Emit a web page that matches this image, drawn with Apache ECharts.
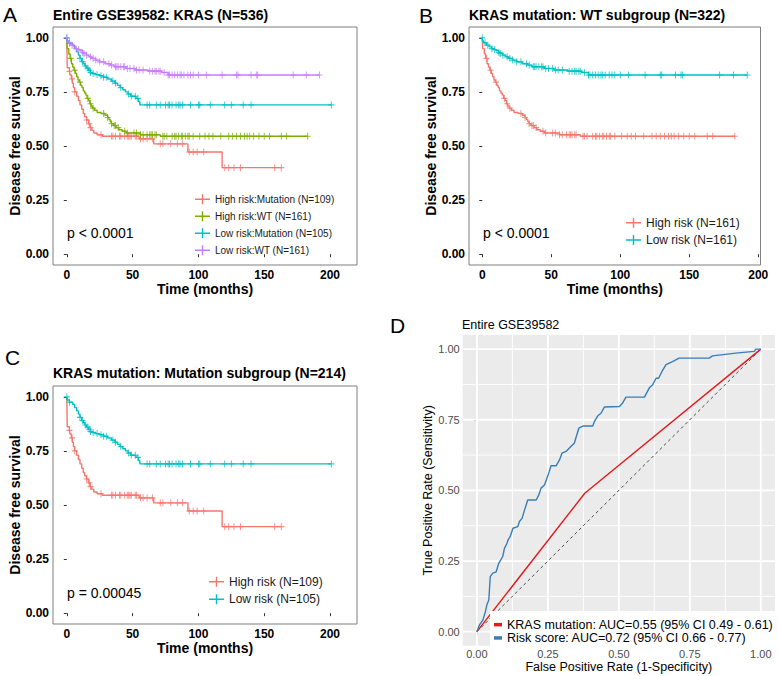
<!DOCTYPE html>
<html><head><meta charset="utf-8">
<script src="https://cdn.jsdelivr.net/npm/echarts@6/dist/echarts.min.js"></script>
<style>html,body{margin:0;padding:0;background:#fff}#c{width:778px;height:676px}</style>
</head><body><div id="c"></div>
<script>
// ---------------- DATA ----------------
// Kaplan-Meier step curves (time in months, survival probability)
const hrMutTime = [0, 0.3, 2, 2.5, 3.5, 4.2, 5, 6, 7.5, 8.8, 10, 11.3, 12.5, 13.5, 15, 16.4, 17.6, 19, 20.5, 23, 27, 55, 66, 92, 118, 163];
const hrMutSurv = [1.0, 0.862, 0.845, 0.828, 0.81, 0.79, 0.77, 0.75, 0.73, 0.71, 0.69, 0.67, 0.65, 0.635, 0.62, 0.603, 0.585, 0.572, 0.56, 0.552, 0.545, 0.533, 0.51, 0.472, 0.40, 0.40];
const hrMutCensor = [2, 4, 6, 15, 17, 18, 26, 34, 35, 37, 40, 41, 44, 46, 47, 48, 49, 52, 53, 56, 58, 61, 65, 71, 73, 79, 84, 88, 93, 96, 99, 104, 120, 123, 127, 132, 158, 163];

const hrWTTime = [0, 0.3, 1.5, 2.5, 3.5, 4.5, 5.5, 6.5, 7.5, 8.5, 9.5, 10.5, 11.5, 12.5, 13.5, 14.5, 15.5, 16.5, 17.5, 18.5, 19.5, 21, 23, 26, 29, 31, 32, 33, 34, 35.5, 37.5, 39.5, 42, 45, 56, 71, 183];
const hrWTSurv = [1.0, 0.95, 0.925, 0.905, 0.88, 0.865, 0.85, 0.835, 0.82, 0.805, 0.795, 0.78, 0.77, 0.755, 0.745, 0.735, 0.72, 0.71, 0.695, 0.685, 0.675, 0.665, 0.655, 0.65, 0.642, 0.632, 0.622, 0.612, 0.603, 0.595, 0.585, 0.575, 0.568, 0.56, 0.552, 0.545, 0.545];
const hrWTCensor = [3, 6, 10, 16, 18, 20, 28, 31, 34, 36, 37, 39, 44, 46, 51, 53, 56, 58, 61, 63, 64, 65, 67, 68, 73, 74, 76, 80, 82, 83, 85, 87, 88, 90, 92, 93, 96, 101, 105, 108, 111, 117, 123, 126, 129, 132, 135, 137, 139, 142, 146, 150, 154, 163, 167, 183];

const lrMutTime = [0, 0.2, 2, 4.5, 6, 7.5, 8.8, 10, 11.3, 12.5, 13.8, 15, 16.3, 18, 19.5, 22, 25, 28, 31, 34, 36.5, 38.5, 40.5, 42.5, 44.5, 46.5, 48.5, 52.5, 54.5, 55.5, 201];
const lrMutSurv = [1.0, 0.985, 0.975, 0.965, 0.95, 0.935, 0.92, 0.905, 0.89, 0.88, 0.87, 0.86, 0.85, 0.84, 0.835, 0.83, 0.825, 0.818, 0.81, 0.80, 0.79, 0.78, 0.77, 0.76, 0.75, 0.74, 0.73, 0.72, 0.705, 0.69, 0.69];
const lrMutCensor = [0, 2, 10, 12, 14, 16, 17, 18, 20, 23, 26, 28, 30, 35, 37, 41, 47, 49, 52, 54, 61, 63, 68, 71, 75, 77, 78, 80, 83, 85, 86, 88, 94, 100, 101, 109, 120, 125, 134, 140, 201];

const lrWTTime = [0, 0.3, 1, 3, 5, 7, 8, 10, 12, 13, 15, 17, 19, 22, 25, 29, 33, 36, 45, 52, 62, 72, 77, 192];
const lrWTSurv = [1.0, 0.985, 0.977, 0.966, 0.958, 0.95, 0.946, 0.94, 0.932, 0.928, 0.92, 0.912, 0.905, 0.897, 0.889, 0.88, 0.874, 0.866, 0.858, 0.851, 0.846, 0.84, 0.828, 0.828];
const lrWTCensor = [0, 2, 4, 7, 9, 12, 13, 15, 18, 20, 22, 25, 28, 32, 34, 37, 38, 39, 41, 43, 44, 46, 48, 51, 53, 55, 58, 63, 65, 67, 68, 70, 71, 74, 77, 78, 80, 82, 84, 86, 87, 89, 92, 94, 96, 100, 106, 118, 129, 130, 140, 144, 145, 172, 182, 192];

// ROC curves
const rocRiskFPR = [0, 0.009, 0.021, 0.03, 0.035, 0.042, 0.047, 0.056, 0.068, 0.077, 0.091, 0.097, 0.106, 0.110, 0.117, 0.127, 0.144, 0.15, 0.159, 0.168, 0.179, 0.209, 0.218, 0.226, 0.238, 0.253, 0.261, 0.279, 0.291, 0.30, 0.314, 0.332, 0.343, 0.359, 0.375, 0.408, 0.414, 0.426, 0.437, 0.449, 0.502, 0.513, 0.525, 0.59, 0.607, 0.619, 0.631, 0.64, 0.652, 0.666, 0.689, 0.712, 0.818, 0.83, 0.912, 0.977, 0.982, 1];
const rocRiskTPR = [0, 0.024, 0.041, 0.071, 0.094, 0.112, 0.195, 0.207, 0.212, 0.242, 0.266, 0.295, 0.313, 0.325, 0.336, 0.366, 0.372, 0.39, 0.401, 0.431, 0.466, 0.466, 0.484, 0.508, 0.519, 0.561, 0.587, 0.587, 0.608, 0.632, 0.638, 0.656, 0.667, 0.72, 0.728, 0.728, 0.744, 0.764, 0.773, 0.795, 0.797, 0.809, 0.830, 0.83, 0.862, 0.874, 0.897, 0.897, 0.921, 0.945, 0.956, 0.968, 0.968, 0.976, 0.986, 0.992, 1.0, 1.0];
const rocKrasFPR = [0, 0.38, 1];
const rocKrasTPR = [0, 0.49, 1];
const diagFPR = [0, 1];
const diagTPR = [0, 1];

// Labels / tick values
const kmTicksX = [0, 50, 100, 150, 200];
const probTicks = [0, 0.25, 0.5, 0.75, 1];
const rocMinor = [0.125, 0.375, 0.625, 0.875];
const namesA = ['High risk:Mutation (N=109)', 'High risk:WT (N=161)', 'Low risk:Mutation (N=105)', 'Low risk:WT (N=161)'];
const namesB = ['High risk (N=161)', 'Low risk (N=161)'];
const namesC = ['High risk (N=109)', 'Low risk (N=105)'];
const namesD = ['KRAS mutation: AUC=0.55 (95% CI 0.49 - 0.61)', 'Risk score: AUC=0.72 (95% CI 0.66 - 0.77)'];
const titles = ['Entire GSE39582: KRAS (N=536)', 'KRAS mutation: WT subgroup (N=322)', 'KRAS mutation: Mutation subgroup (N=214)', 'Entire GSE39582'];
const pvals = ['p < 0.0001', 'p < 0.0001', 'p = 0.00045'];
const letters = ['A', 'B', 'C', 'D'];

// ---------------- CHART ----------------
const FONT = '"Liberation Sans", Arial, Helvetica, sans-serif';
const C_RED = '#F8766D', C_GRN = '#7CAE00', C_TEAL = '#00BFC4', C_PURP = '#C77CFF';
const PLUS = 'path://M0,4.2H10V5.8H0Z M4.2,0H5.8V10H4.2Z';
const PLUS_LEG = 'path://M0,4.3H15V5.7H0Z M6.8,0H8.2V10H6.8Z';
const AX_MIN = -0.05, AX_MAX = 1.05;

function survAt(times, survs, t) {
  let s = survs[0];
  for (let i = 0; i < times.length; i++) { if (times[i] <= t) s = survs[i]; else break; }
  return s;
}
function km(name, color, times, survs, censor, gi) {
  return [
    { type: 'line', name, xAxisIndex: gi, yAxisIndex: gi, step: 'end', symbol: 'none', silent: true,
      data: times.map((t, i) => [t, survs[i]]), lineStyle: { color, width: 1.4 }, itemStyle: { color }, color, z: 3 },
    { type: 'scatter', name, xAxisIndex: gi, yAxisIndex: gi, symbol: PLUS, symbolSize: [6, 7], silent: true,
      data: censor.map(t => [t, survAt(times, survs, t)]), itemStyle: { color }, color, z: 4 }
  ];
}
function kmX(gi, min, max) {
  return { type: 'value', gridIndex: gi, min, max,
    axisLine: { show: false }, splitLine: { show: false },
    axisTick: { show: true, customValues: kmTicksX, length: 3, lineStyle: { color: '#333', width: 1 } },
    axisLabel: { customValues: kmTicksX, color: '#000', fontWeight: 'bold', fontSize: 12, fontFamily: FONT, margin: 4 },
    name: 'Time (months)', nameLocation: 'middle', nameGap: 17,
    nameTextStyle: { color: '#000', fontWeight: 'bold', fontSize: 14, fontFamily: FONT } };
}
function kmY(gi) {
  return { type: 'value', gridIndex: gi, min: AX_MIN, max: AX_MAX,
    axisLine: { show: false }, splitLine: { show: false },
    axisTick: { show: true, customValues: probTicks, length: 3, lineStyle: { color: '#333', width: 1 } },
    axisLabel: { customValues: probTicks, formatter: v => v.toFixed(2), color: '#000', fontWeight: 'bold', fontSize: 12, fontFamily: FONT, margin: 4 },
    name: 'Disease free survival', nameLocation: 'middle', nameGap: 31, nameRotate: 90,
    nameTextStyle: { color: '#000', fontWeight: 'bold', fontSize: 14, fontFamily: FONT } };
}
const kmGrid = { show: true, backgroundColor: '#fff', borderColor: '#7f7f7f', borderWidth: 1, containLabel: false };

function txt(text, x, y, font, fill) {
  return { type: 'text', x, y, silent: true, style: { text, font, fill, align: 'left', verticalAlign: 'middle' } };
}
// white panel grid lines for the ROC plot, drawn as plain line series on its axes
function gridLineSeries(values, width) {
  const out = [];
  values.forEach(v => {
    out.push({ type: 'line', xAxisIndex: 3, yAxisIndex: 3, symbol: 'none', silent: true, z: 2,
      data: [[v, AX_MIN], [v, AX_MAX]], lineStyle: { color: '#ffffff', width, opacity: 1 } });
    out.push({ type: 'line', xAxisIndex: 3, yAxisIndex: 3, symbol: 'none', silent: true, z: 2,
      data: [[AX_MIN, v], [AX_MAX, v]], lineStyle: { color: '#ffffff', width, opacity: 1 } });
  });
  return out;
}

const series = [].concat(
  km(namesA[0], C_RED, hrMutTime, hrMutSurv, hrMutCensor, 0),
  km(namesA[1], C_GRN, hrWTTime, hrWTSurv, hrWTCensor, 0),
  km(namesA[2], C_TEAL, lrMutTime, lrMutSurv, lrMutCensor, 0),
  km(namesA[3], C_PURP, lrWTTime, lrWTSurv, lrWTCensor, 0),
  km(namesB[0], C_RED, hrWTTime, hrWTSurv, hrWTCensor, 1),
  km(namesB[1], C_TEAL, lrWTTime, lrWTSurv, lrWTCensor, 1),
  km(namesC[0], C_RED, hrMutTime, hrMutSurv, hrMutCensor, 2),
  km(namesC[1], C_TEAL, lrMutTime, lrMutSurv, lrMutCensor, 2),
  gridLineSeries(rocMinor, 0.9),
  gridLineSeries(probTicks, 1.8),
  [
    { type: 'line', xAxisIndex: 3, yAxisIndex: 3, symbol: 'none', silent: true, z: 3,
      data: diagFPR.map((v, i) => [v, diagTPR[i]]), lineStyle: { color: '#222', width: 0.8, type: [3, 3] } },
    { type: 'line', name: namesD[0], xAxisIndex: 3, yAxisIndex: 3, symbol: 'none', silent: true, z: 4,
      data: rocKrasFPR.map((v, i) => [v, rocKrasTPR[i]]), lineStyle: { color: '#E41A1C', width: 1.4 }, itemStyle: { color: '#E41A1C' }, color: '#E41A1C' },
    { type: 'line', name: namesD[1], xAxisIndex: 3, yAxisIndex: 3, symbol: 'none', silent: true, z: 4,
      data: rocRiskFPR.map((v, i) => [v, rocRiskTPR[i]]), lineStyle: { color: '#377EB8', width: 1.4 }, itemStyle: { color: '#377EB8' }, color: '#377EB8' }
  ]
);

const rocAxisCommon = {
  type: 'value', gridIndex: 3, min: AX_MIN, max: AX_MAX,
  axisLine: { show: false }, splitLine: { show: false },
  axisTick: { show: true, customValues: probTicks, length: 3, lineStyle: { color: '#333', width: 0.8 } },
  axisLabel: { customValues: probTicks, formatter: v => v.toFixed(2), color: '#4D4D4D', fontSize: 11, fontFamily: FONT, margin: 3 },
  nameLocation: 'middle', nameTextStyle: { color: '#000', fontSize: 12.5, fontFamily: FONT }
};

const kmLegend = (names, left, top, gap, fs) => ({
  data: names, orient: 'vertical', left, top, itemWidth: 15, itemHeight: 10, itemGap: gap, icon: PLUS_LEG,
  padding: 0, selectedMode: false, itemStyle: { borderWidth: 0 },
  textStyle: { fontSize: fs, color: '#1a1a1a', fontFamily: FONT }
});

const option = {
  animation: false,
  backgroundColor: '#fff',
  grid: [
    Object.assign({ left: 53, top: 27, width: 304, height: 238 }, kmGrid),
    Object.assign({ left: 469, top: 27, width: 291.5, height: 238 }, kmGrid),
    Object.assign({ left: 53, top: 386, width: 304, height: 238 }, kmGrid),
    { left: 462.7, top: 335, width: 312.3, height: 310.8, show: true, backgroundColor: '#EBEBEB', borderWidth: 0 }
  ],
  xAxis: [
    kmX(0, -10.5, 220.5), kmX(1, -9.6, 201.6), kmX(2, -10.5, 220.5),
    Object.assign({}, rocAxisCommon, { name: 'False Positive Rate (1-Specificity)', nameGap: 15 })
  ],
  yAxis: [
    kmY(0), kmY(1), kmY(2),
    Object.assign({}, rocAxisCommon, { name: 'True Positive Rate (Sensitivity)', nameGap: 27, nameRotate: 90 })
  ],
  legend: [
    kmLegend(namesA, 195, 194.3, 7, 10),
    kmLegend(namesB, 626, 216.7, 5.3, 12),
    kmLegend(namesC, 209, 575.7, 5.6, 12),
    { data: namesD, orient: 'vertical', left: 490, top: 611, itemWidth: 8, itemHeight: 3.5, itemGap: 0, icon: 'rect',
      padding: [7, 6, 4, 4], backgroundColor: '#fff', selectedMode: false, z: 10,
      textStyle: { fontSize: 12.5, lineHeight: 13.3, color: '#000', fontFamily: FONT } }
  ],
  graphic: [
    txt(letters[0], 3, 14, '21px ' + FONT, '#000'),
    txt(letters[1], 419, 15, '21px ' + FONT, '#000'),
    txt(letters[2], 5, 357, '21px ' + FONT, '#000'),
    txt(letters[3], 390, 325, '21px ' + FONT, '#000'),
    txt(titles[0], 53, 15, 'bold 14px ' + FONT, '#000'),
    txt(titles[1], 469, 15, 'bold 14px ' + FONT, '#000'),
    txt(titles[2], 53, 373, 'bold 14px ' + FONT, '#000'),
    txt(titles[3], 462, 325, '12.5px ' + FONT, '#000'),
    txt(pvals[0], 67, 233.3, '14px ' + FONT, '#000'),
    txt(pvals[1], 483, 233.3, '14px ' + FONT, '#000'),
    txt(pvals[2], 67, 592.7, '14px ' + FONT, '#000')
  ],
  series
};

const chart = echarts.init(document.getElementById('c'), null, { renderer: 'svg', width: 778, height: 676 });
chart.setOption(option);
</script></body></html>
